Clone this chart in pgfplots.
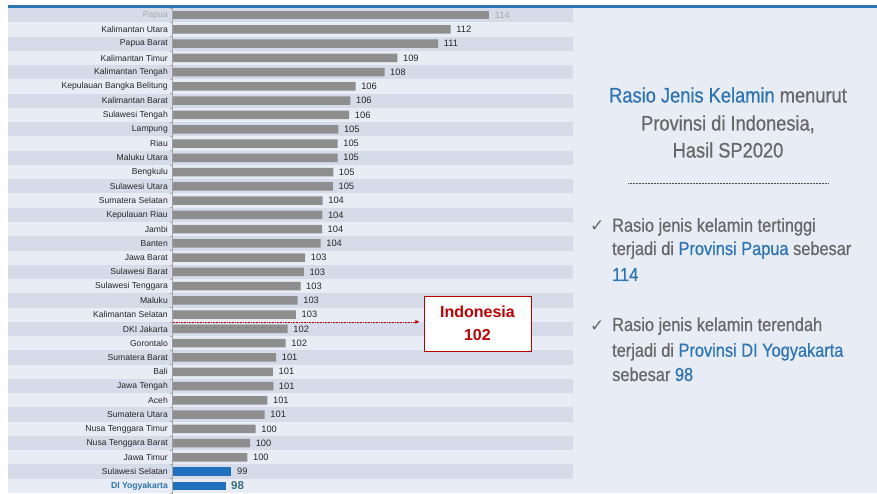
\documentclass[border=0pt]{standalone}
\usepackage{pgfplots}
\pgfplotsset{compat=1.18}
\usepackage{fontspec}
\setmainfont{Liberation Sans}
\newfontfamily\narrow[FakeStretch=0.87,FakeBold=0.7]{Liberation Sans}
\newfontfamily\dejavu{DejaVu Sans}
\usetikzlibrary{arrows.meta,shadows}
\definecolor{darkrow}{HTML}{D5DBE8}
\definecolor{lightrow}{HTML}{E8ECF4}
\definecolor{topblue}{HTML}{2E75B6}
\definecolor{barblue}{HTML}{2170BE}
\definecolor{bargrey}{HTML}{8E8E8E}
\definecolor{txtgrey}{HTML}{686868}
\definecolor{lblack}{HTML}{262626}
\definecolor{lgrey}{HTML}{A8A8A8}
\definecolor{teal98}{HTML}{3A6F7E}
\definecolor{indred}{HTML}{C00000}
\begin{document}
\begin{tikzpicture}[x=1pt,y=1pt]
\useasboundingbox (0,0) rectangle (877,493);
\fill[white] (0,0) rectangle (877,493);
\fill[lightrow] (573,0) rectangle (877,485);
\foreach \i in {0,2,...,32} {\fill[darkrow] (8,{485-14.265*\i}) rectangle (573,{485-14.265*(\i+1)});}
\foreach \i in {1,3,...,33} {\fill[lightrow] (8,{485-14.265*\i}) rectangle (573,{485-14.265*(\i+1)});}
\fill[topblue] (8,485) rectangle (877,487.5);
\begin{axis}[
  at={(172.5pt,0pt)}, anchor=south west,
  scale only axis, width=400.5pt, height=485pt,
  xmin=95.28, xmax=119.12, ymin=-0.5, ymax=33.5,
  y dir=reverse, enlargelimits=false,
  axis x line=none, axis y line*=left,
  y axis line style={draw=lgrey, line width=0.6pt},
  ytick={0,...,33}, major tick length=0pt,
  yticklabel style={font=\fontsize{8.6}{10}\selectfont, text=lblack, inner sep=0pt, xshift=-4.5pt},
  yticklabels={{\textcolor{lgrey}{Papua}},Kalimantan Utara,Papua Barat,Kalimantan Timur,Kalimantan Tengah,Kepulauan Bangka Belitung,Kalimantan Barat,Sulawesi Tengah,Lampung,Riau,Maluku Utara,Bengkulu,Sulawesi Utara,Sumatera Selatan,Kepulauan Riau,Jambi,Banten,Jawa Barat,Sulawesi Barat,Sulawesi Tenggara,Maluku,Kalimantan Selatan,DKI Jakarta,Gorontalo,Sumatera Barat,Bali,Jawa Tengah,Aceh,Sumatera Utara,Nusa Tenggara Timur,Nusa Tenggara Barat,Jawa Timur,Sulawesi Selatan,{\textcolor{topblue}{\bfseries DI Yogyakarta}}},
  extra y ticks={-0.5,0.5,...,33.5}, extra y tick labels={},
  extra y tick style={major tick length=3pt, tick align=outside, tick style={draw=lgrey, line width=0.5pt}},
  clip=false,
]
\addplot[xbar, bar shift=0pt, bar width=8.5pt, fill=bargrey, draw=none,
  nodes near coords, point meta=explicit symbolic,
  every node near coord/.style={font=\fontsize{9.3}{10}\selectfont, text=lgrey, inner sep=0pt, xshift=6pt, anchor=west}]
  coordinates {(114.1,0) [114]};
\addplot[xbar, bar shift=0pt, bar width=8.5pt, fill=bargrey, draw=none,
  nodes near coords, point meta=explicit symbolic,
  every node near coord/.style={font=\fontsize{9.3}{10}\selectfont, text=lblack, inner sep=0pt, xshift=5.5pt, anchor=west}]
  coordinates {
  (111.84,1) [112]
  (111.09,2) [111]
  (108.67,3) [109]
  (107.90,4) [108]
  (106.18,5) [106]
  (105.87,6) [106]
  (105.80,7) [106]
  (105.15,8) [105]
  (105.11,9) [105]
  (105.11,10) [105]
  (104.85,11) [105]
  (104.83,12) [105]
  (104.22,13) [104]
  (104.20,14) [104]
  (104.18,15) [104]
  (104.10,16) [104]
  (103.18,17) [103]
  (103.10,18) [103]
  (102.90,19) [103]
  (102.73,20) [103]
  (102.63,21) [103]
  (102.14,22) [102]
  (102.02,23) [102]
  (101.45,24) [101]
  (101.26,25) [101]
  (101.28,26) [101]
  (100.93,27) [101]
  (100.77,28) [101]
  (100.23,29) [100]
  (99.90,30) [100]
  (99.74,31) [100]
  };
\addplot[xbar, bar shift=0pt, bar width=8.5pt, fill=barblue, draw=none,
  nodes near coords, point meta=explicit symbolic,
  every node near coord/.style={font=\fontsize{9.3}{10}\selectfont, text=lblack, inner sep=0pt, xshift=5.5pt, anchor=west}]
  coordinates {(98.79,32) [99]};
\addplot[xbar, bar shift=0pt, bar width=8.5pt, fill=barblue, draw=none,
  nodes near coords, point meta=explicit symbolic,
  every node near coord/.style={font=\bfseries\fontsize{11.5}{12}\selectfont, text=teal98, inner sep=0pt, xshift=5pt, anchor=west}]
  coordinates {(98.46,33) [98]};
\draw[indred, line width=0.6pt, densely dotted, -{Latex[length=4.5pt,width=4pt]}] (axis cs:95.28,21.5) -- (axis cs:110.0,21.5);
\node[draw=indred, line width=0.8pt, fill=white, drop shadow={shadow xshift=1pt, shadow yshift=-1pt, opacity=0.3},
  minimum width=107pt, minimum height=55pt, align=center, text=indred,
  font=\bfseries\fontsize{16}{23}\selectfont] at (axis cs:113.43,21.62) {Indonesia\\102};
\end{axis}
% right panel text
\begin{scope}[every node/.style={inner sep=0pt}]
\node[anchor=base, font=\narrow\fontsize{21}{28}\selectfont, text=txtgrey] at (728,390.5) {\textcolor{topblue}{Rasio Jenis Kelamin} menurut};
\node[anchor=base, font=\narrow\fontsize{21}{28}\selectfont, text=txtgrey] at (728,362.5) {Provinsi di Indonesia,};
\node[anchor=base, font=\narrow\fontsize{21}{28}\selectfont, text=txtgrey] at (728,335.5) {Hasil SP2020};
\draw[black!70, line width=0.6pt, dash pattern=on 0.6pt off 0.9pt] (628,310) -- (828,310);
\node[anchor=base west, font=\dejavu\fontsize{17}{19}\selectfont, text=txtgrey] at (590,261.3) {✓};
\node[anchor=base west, font=\narrow\fontsize{18.8}{25}\selectfont, text=txtgrey] at (612,261.3) {Rasio jenis kelamin tertinggi};
\node[anchor=base west, font=\narrow\fontsize{18.8}{25}\selectfont, text=txtgrey] at (612,238) {terjadi di \textcolor{topblue}{Provinsi Papua} sebesar};
\node[anchor=base west, font=\narrow\fontsize{18.8}{25}\selectfont, text=topblue] at (612,212) {114};
\node[anchor=base west, font=\dejavu\fontsize{17}{19}\selectfont, text=txtgrey] at (590,162) {✓};
\node[anchor=base west, font=\narrow\fontsize{18.8}{25}\selectfont, text=txtgrey] at (612,162) {Rasio jenis kelamin terendah};
\node[anchor=base west, font=\narrow\fontsize{18.8}{25}\selectfont, text=txtgrey] at (612,136.3) {terjadi di \textcolor{topblue}{Provinsi DI Yogyakarta}};
\node[anchor=base west, font=\narrow\fontsize{18.8}{25}\selectfont, text=txtgrey] at (612,112) {sebesar \textcolor{topblue}{98}};
\end{scope}
\end{tikzpicture}
\end{document}
